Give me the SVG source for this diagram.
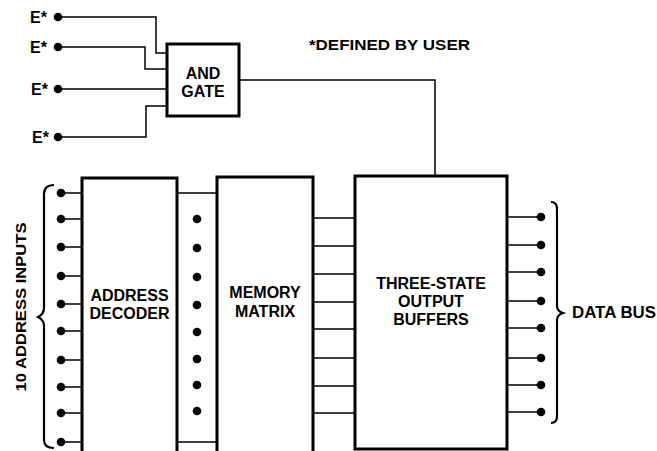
<svg xmlns="http://www.w3.org/2000/svg" width="657" height="451" viewBox="0 0 657 451">
<style>
.box{fill:#fff;stroke:#000;stroke-width:3}
.w{fill:none;stroke:#000;stroke-width:1.5}
.br{fill:none;stroke:#000;stroke-width:2.2}
.d{fill:#000}
text{font-family:"Liberation Sans",Arial,sans-serif;font-weight:bold;fill:#000}
.lb{font-size:16px;text-anchor:middle}
.sm{font-size:15px}
.e{font-size:16px}
</style>
<rect width="657" height="451" fill="#fff"/>
<g id="connectors">
<path class="w" d="M58,17 H156 V53 H167 M58,47 H145 V69 H167 M58,89 H167 M58,137 H146 V106 H167"/>
<path class="w" d="M239,80 H435 V176"/>
<path class="w" d="M61,193 H82 M61,219 H82 M61,247 H82 M61,276 H82 M61,304 H82 M61,331 H82 M61,360 H82 M61,387 H82 M61,413 H82 M61,442 H82"/>
<path class="w" d="M177,193 H217 M177,442 H217"/>
<path class="w" d="M313,218 H355 M313,246 H355 M313,274 H355 M313,302 H355 M313,329 H355 M313,358 H355 M313,386 H355 M313,413 H355"/>
<path class="w" d="M507,217 H541 M507,245 H541 M507,272 H541 M507,301 H541 M507,328 H541 M507,358 H541 M507,385 H541 M507,412 H541"/>
</g>
<g id="e-inputs">
<circle class="d" cx="58" cy="17" r="4.3"/>
<circle class="d" cx="58" cy="47" r="4.3"/>
<circle class="d" cx="58" cy="89" r="4.3"/>
<circle class="d" cx="58" cy="137" r="4.3"/>
<text class="e" x="30" y="23">E*</text>
<text class="e" x="30" y="53">E*</text>
<text class="e" x="31" y="95">E*</text>
<text class="e" x="32" y="143">E*</text>
</g>
<g id="and-gate">
<rect class="box" x="167" y="44" width="72" height="72"/>
<text class="lb" x="203" y="79">AND</text>
<text class="lb" x="203" y="97">GATE</text>
</g>
<g id="note">
<text class="sm" x="309" y="50" textLength="161" lengthAdjust="spacingAndGlyphs">*DEFINED BY USER</text>
</g>
<g id="address-inputs">
<circle class="d" cx="61" cy="193" r="4.3"/>
<circle class="d" cx="61" cy="219" r="4.3"/>
<circle class="d" cx="61" cy="247" r="4.3"/>
<circle class="d" cx="61" cy="276" r="4.3"/>
<circle class="d" cx="61" cy="304" r="4.3"/>
<circle class="d" cx="61" cy="331" r="4.3"/>
<circle class="d" cx="61" cy="360" r="4.3"/>
<circle class="d" cx="61" cy="387" r="4.3"/>
<circle class="d" cx="61" cy="413" r="4.3"/>
<circle class="d" cx="61" cy="442" r="4.3"/>
<path class="br" d="M54,185 Q44,185 44,194 V308 Q44,314 38,317 Q44,320 44,326 V440 Q44,448 54,448"/>
<text class="sm" transform="translate(26,307) rotate(-90)" text-anchor="middle" textLength="169" lengthAdjust="spacingAndGlyphs">10 ADDRESS INPUTS</text>
</g>
<g id="address-decoder">
<rect class="box" x="82" y="178" width="95" height="285"/>
<text class="lb" x="129.5" y="301">ADDRESS</text>
<text class="lb" x="129.5" y="319">DECODER</text>
</g>
<g id="decoder-dots">
<circle class="d" cx="197" cy="219" r="4.3"/>
<circle class="d" cx="197" cy="248" r="4.3"/>
<circle class="d" cx="197" cy="277" r="4.3"/>
<circle class="d" cx="197" cy="305" r="4.3"/>
<circle class="d" cx="197" cy="332" r="4.3"/>
<circle class="d" cx="197" cy="359" r="4.3"/>
<circle class="d" cx="197" cy="385" r="4.3"/>
<circle class="d" cx="197" cy="411" r="4.3"/>
</g>
<g id="memory-matrix">
<rect class="box" x="217" y="177" width="96" height="286"/>
<text class="lb" x="265" y="298">MEMORY</text>
<text class="lb" x="265" y="317">MATRIX</text>
</g>
<g id="output-buffers">
<rect class="box" x="355" y="176" width="152" height="273"/>
<text class="lb" x="431" y="289">THREE-STATE</text>
<text class="lb" x="431" y="307">OUTPUT</text>
<text class="lb" x="431" y="325">BUFFERS</text>
</g>
<g id="data-bus">
<circle class="d" cx="541" cy="217" r="4.3"/>
<circle class="d" cx="541" cy="245" r="4.3"/>
<circle class="d" cx="541" cy="272" r="4.3"/>
<circle class="d" cx="541" cy="301" r="4.3"/>
<circle class="d" cx="541" cy="328" r="4.3"/>
<circle class="d" cx="541" cy="358" r="4.3"/>
<circle class="d" cx="541" cy="385" r="4.3"/>
<circle class="d" cx="541" cy="412" r="4.3"/>
<path class="br" d="M551,202 Q557,202 557,209 V306 Q557,311 563,313 Q557,315 557,320 V416 Q557,423 551,423"/>
<text x="572" y="318" style="font-size:16px" textLength="84" lengthAdjust="spacingAndGlyphs">DATA BUS</text>
</g>
</svg>
